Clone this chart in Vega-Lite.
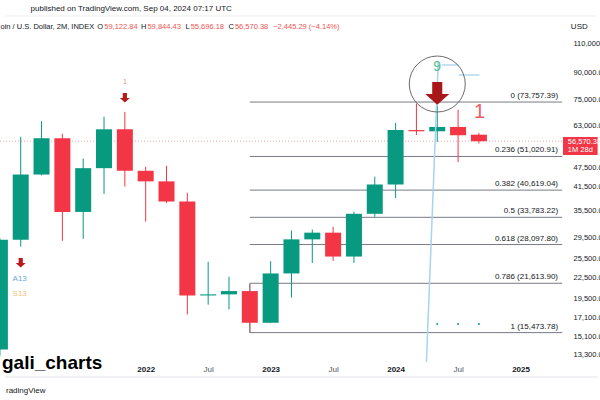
{
  "$schema": "https://vega.github.io/schema/vega-lite/v6.json",
  "width": 568,
  "height": 343,
  "autosize": {"type": "none"},
  "padding": {"left": 0, "top": 17, "right": 32, "bottom": 40},
  "background": "white",
  "config": {"view": {"stroke": null}, "font": "Liberation Sans", "text": {"font": "Liberation Sans"}},
  "datasets": {
    "candles": [
      {"date": "2020-11", "i": -1, "open": 13800, "high": 29300, "low": 13200, "close": 29000},
      {"date": "2021-01", "i": 0, "open": 29000, "high": 58300, "low": 27700, "close": 45140},
      {"date": "2021-03", "i": 1, "open": 45140, "high": 64800, "low": 44900, "close": 57720},
      {"date": "2021-05", "i": 2, "open": 57720, "high": 59500, "low": 28800, "close": 35040},
      {"date": "2021-07", "i": 3, "open": 35040, "high": 50300, "low": 29200, "close": 47130},
      {"date": "2021-09", "i": 4, "open": 47130, "high": 66800, "low": 39600, "close": 61320},
      {"date": "2021-11", "i": 5, "open": 61320, "high": 69000, "low": 41600, "close": 46300},
      {"date": "2022-01", "i": 6, "open": 46300, "high": 47600, "low": 32800, "close": 43100},
      {"date": "2022-03", "i": 7, "open": 43100, "high": 47900, "low": 37200, "close": 37600},
      {"date": "2022-05", "i": 8, "open": 37600, "high": 39900, "low": 17500, "close": 19900},
      {"date": "2022-07", "i": 9, "open": 19900, "high": 25000, "low": 18700, "close": 20050},
      {"date": "2022-09", "i": 10, "open": 20050, "high": 22600, "low": 18100, "close": 20500},
      {"date": "2022-11", "i": 11, "open": 20500, "high": 21500, "low": 15476, "close": 16540},
      {"date": "2023-01", "i": 12, "open": 16540, "high": 25100, "low": 16500, "close": 23100},
      {"date": "2023-03", "i": 13, "open": 23100, "high": 30900, "low": 19600, "close": 29100},
      {"date": "2023-05", "i": 14, "open": 29100, "high": 31100, "low": 24800, "close": 30450},
      {"date": "2023-07", "i": 15, "open": 30450, "high": 31700, "low": 25150, "close": 25900},
      {"date": "2023-09", "i": 16, "open": 25900, "high": 35100, "low": 24800, "close": 34600},
      {"date": "2023-11", "i": 17, "open": 34600, "high": 44500, "low": 33900, "close": 42200},
      {"date": "2024-01", "i": 18, "open": 42200, "high": 64000, "low": 38500, "close": 61000},
      {"date": "2024-03", "i": 19, "open": 61000, "high": 73000, "low": 59000, "close": 60500},
      {"date": "2024-05", "i": 20, "open": 60500, "high": 72000, "low": 56300, "close": 62300},
      {"date": "2024-07", "i": 21, "open": 62300, "high": 70000, "low": 49100, "close": 58900},
      {"date": "2024-09", "i": 22, "open": 59122.84, "high": 59844.43, "low": 55696.18, "close": 56570.38}
    ],
    "fib": [
      {"label": "0 (73,757.39)", "v": 73757.39},
      {"label": "0.236 (51,020.91)", "v": 51020.91},
      {"label": "0.382 (40,619.04)", "v": 40619.04},
      {"label": "0.5 (33,783.22)", "v": 33783.22},
      {"label": "0.618 (28,097.80)", "v": 28097.8},
      {"label": "0.786 (21,613.90)", "v": 21613.9},
      {"label": "1 (15,473.78)", "v": 15473.78}
    ],
    "hdrDark": [
      {"t": "oin / U.S. Dollar, 2M, INDEX", "i": 3.58},
      {"t": "O", "i": 4.009},
      {"t": "H", "i": 6.085},
      {"t": "L", "i": 8.16},
      {"t": "C", "i": 10.283}
    ],
    "hdrRed": [
      {"t": "59,122.84", "i": 4.009},
      {"t": "59,844.43", "i": 6.085},
      {"t": "55,696.18", "i": 8.16},
      {"t": "56,570.38", "i": 10.283},
      {"t": "−2,445.29 (−4.14%)", "i": 12.123}
    ]
  },
  "layer": [
    {
      "data": {"values": [{"i": -0.7547, "i2": 27.6, "v": 132100}]},
      "mark": {"type": "rule", "color": "#eeeeee", "strokeWidth": 1},
      "encoding": {
        "x": {"field": "i", "type": "quantitative", "scale": {"domain": [-0.7547, 26.0377], "nice": false, "zero": false}},
        "x2": {"field": "i2"},
        "y": {"field": "v", "type": "quantitative", "scale": {"type": "log", "domain": [12854, 131200], "nice": false}}
      }
    },
    {
      "data": {"values": [{"v": 56570.38}]},
      "mark": {"type": "rule", "color": "#f5a3a9", "strokeWidth": 1, "strokeDash": [1, 2]},
      "encoding": {
        "y": {"field": "v", "type": "quantitative", "scale": {"type": "log", "domain": [12854, 131200], "nice": false}}
      }
    },
    {
      "data": {"name": "fib"},
      "mark": {"type": "rule", "color": "#787b86", "strokeWidth": 1},
      "encoding": {
        "x": {"datum": 11, "type": "quantitative", "scale": {"domain": [-0.7547, 26.0377], "nice": false, "zero": false}},
        "x2": {"datum": 26.0},
        "y": {"field": "v", "type": "quantitative", "scale": {"type": "log", "domain": [12854, 131200], "nice": false}}
      }
    },
    {
      "data": {"name": "fib"},
      "mark": {"type": "text", "align": "right", "baseline": "alphabetic", "dy": -4, "fontSize": 8, "color": "#131722"},
      "encoding": {
        "x": {"datum": 25.8, "type": "quantitative", "scale": {"domain": [-0.7547, 26.0377], "nice": false, "zero": false}},
        "y": {"field": "v", "type": "quantitative", "scale": {"type": "log", "domain": [12854, 131200], "nice": false}},
        "text": {"field": "label"}
      }
    },
    {
      "data": {"name": "candles"},
      "mark": {"type": "rule", "strokeWidth": 1},
      "encoding": {
        "x": {"field": "i", "type": "quantitative", "scale": {"domain": [-0.7547, 26.0377], "nice": false, "zero": false}},
        "y": {"field": "low", "type": "quantitative", "scale": {"type": "log", "domain": [12854, 131200], "nice": false}},
        "y2": {"field": "high"},
        "color": {"condition": {"test": "datum.close >= datum.open", "value": "#089981"}, "value": "#f23645"}
      }
    },
    {
      "data": {"values": [{"i": 11, "lo": 15473.78, "hi": 21613.9}]},
      "mark": {"type": "rule", "strokeWidth": 1, "color": "#787b86"},
      "encoding": {
        "x": {"field": "i", "type": "quantitative", "scale": {"domain": [-0.7547, 26.0377], "nice": false, "zero": false}},
        "y": {"field": "lo", "type": "quantitative", "scale": {"type": "log", "domain": [12854, 131200], "nice": false}},
        "y2": {"field": "hi"}
      }
    },
    {
      "data": {"name": "candles"},
      "mark": {"type": "bar", "size": 16},
      "encoding": {
        "x": {
          "field": "i", "type": "quantitative",
          "scale": {"domain": [-0.7547, 26.0377], "nice": false, "zero": false},
          "axis": {
            "orient": "bottom", "values": [6, 9, 12, 15, 18, 21, 24],
            "labelExpr": "datum.value % 6 === 0 ? '' + (2021 + datum.value / 6) : 'Jul'",
            "labelFontWeight": {"condition": {"test": "datum.value % 6 === 0", "value": "bold"}, "value": "normal"},
            "labelColor": {"condition": {"test": "datum.value % 6 === 0", "value": "#131722"}, "value": "#50535e"},
            "labelFontSize": 8, "labelFont": "Liberation Sans", "labelPadding": 5,
            "ticks": false, "domain": false, "grid": false, "title": null,
            "labelFlush": false, "labelOverlap": false
          }
        },
        "y": {
          "field": "open", "type": "quantitative",
          "scale": {"type": "log", "domain": [12854, 131200], "nice": false},
          "axis": {
            "orient": "right",
            "values": [110000, 90000, 75000, 63000, 47500, 41500, 35500, 29500, 25500, 22500, 19500, 17100, 15100, 13300],
            "format": ",.2f", "labelAlign": "left", "labelBaseline": "middle", "labelPadding": 5,
            "labelFontSize": 7.5, "labelFont": "Liberation Sans", "labelColor": "#131722",
            "ticks": false, "domain": false, "grid": false, "title": null,
            "labelOverlap": false, "labelFlush": false, "labelBound": false
          }
        },
        "y2": {"field": "close"},
        "color": {"condition": {"test": "datum.close >= datum.open", "value": "#089981"}, "value": "#f23645"}
      }
    },
    {
      "data": {"values": [{"i": 20.047, "v": 96730}, {"i": 19.48, "v": 12680}]},
      "mark": {"type": "line", "color": "#a9d3f0", "strokeWidth": 1.5},
      "encoding": {
        "x": {"field": "i", "type": "quantitative", "scale": {"domain": [-0.7547, 26.0377], "nice": false, "zero": false}},
        "y": {"field": "v", "type": "quantitative", "scale": {"type": "log", "domain": [12854, 131200], "nice": false}}
      }
    },
    {
      "data": {"values": [{"i": 20.236, "i2": 21.038, "v": 94780}, {"i": 21.038, "i2": 22.028, "v": 88580}]},
      "mark": {"type": "rule", "color": "#b3d9f2", "strokeWidth": 1.5},
      "encoding": {
        "x": {"field": "i", "type": "quantitative", "scale": {"domain": [-0.7547, 26.0377], "nice": false, "zero": false}},
        "x2": {"field": "i2"},
        "y": {"field": "v", "type": "quantitative", "scale": {"type": "log", "domain": [12854, 131200], "nice": false}}
      }
    },
    {
      "data": {"values": [{"i": 20, "v": 83330}]},
      "mark": {"type": "point", "shape": "circle", "filled": false, "size": 3136, "stroke": "#6b6b6b", "strokeWidth": 1, "opacity": 1},
      "encoding": {
        "x": {"field": "i", "type": "quantitative", "scale": {"domain": [-0.7547, 26.0377], "nice": false, "zero": false}},
        "y": {"field": "v", "type": "quantitative", "scale": {"type": "log", "domain": [12854, 131200], "nice": false}}
      }
    },
    {
      "data": {"values": [{"i": 5, "v": 75810}, {"i": 0, "v": 24800}]},
      "mark": {"type": "point", "shape": "M-0.42,-1L0.42,-1L0.42,0L1,0L0,0.9L-1,0L-0.42,0Z", "filled": true, "size": 100, "color": "#b71c1c", "opacity": 1},
      "encoding": {
        "x": {"field": "i", "type": "quantitative", "scale": {"domain": [-0.7547, 26.0377], "nice": false, "zero": false}},
        "y": {"field": "v", "type": "quantitative", "scale": {"type": "log", "domain": [12854, 131200], "nice": false}}
      }
    },
    {
      "data": {"values": [{"i": 20, "v": 77890}]},
      "mark": {"type": "point", "shape": "M-0.42,-1L0.42,-1L0.42,0L1,0L0,0.9L-1,0L-0.42,0Z", "filled": true, "size": 576, "color": "#a81818", "opacity": 1},
      "encoding": {
        "x": {"field": "i", "type": "quantitative", "scale": {"domain": [-0.7547, 26.0377], "nice": false, "zero": false}},
        "y": {"field": "v", "type": "quantitative", "scale": {"type": "log", "domain": [12854, 131200], "nice": false}}
      }
    },
    {
      "data": {"values": [{"i": 20, "v": 16400}, {"i": 21, "v": 16400}, {"i": 22, "v": 16400}]},
      "mark": {"type": "point", "shape": "circle", "filled": true, "size": 4, "color": "#089981", "opacity": 1},
      "encoding": {
        "x": {"field": "i", "type": "quantitative", "scale": {"domain": [-0.7547, 26.0377], "nice": false, "zero": false}},
        "y": {"field": "v", "type": "quantitative", "scale": {"type": "log", "domain": [12854, 131200], "nice": false}}
      }
    },
    {
      "data": {"values": [{"t": "9", "i": 20, "v": 93500}]},
      "mark": {"type": "text", "fontSize": 14, "color": "#57c18f", "align": "center", "baseline": "middle"},
      "encoding": {
        "x": {"field": "i", "type": "quantitative", "scale": {"domain": [-0.7547, 26.0377], "nice": false, "zero": false}},
        "y": {"field": "v", "type": "quantitative", "scale": {"type": "log", "domain": [12854, 131200], "nice": false}},
        "text": {"field": "t"}
      }
    },
    {
      "data": {"values": [{"t": "1", "i": 22.03, "v": 68960}]},
      "mark": {"type": "text", "fontSize": 20, "color": "#f45b69", "align": "center", "baseline": "middle"},
      "encoding": {
        "x": {"field": "i", "type": "quantitative", "scale": {"domain": [-0.7547, 26.0377], "nice": false, "zero": false}},
        "y": {"field": "v", "type": "quantitative", "scale": {"type": "log", "domain": [12854, 131200], "nice": false}},
        "text": {"field": "t"}
      }
    },
    {
      "data": {"values": [{"t": "1", "i": 5, "v": 84470}]},
      "mark": {"type": "text", "fontSize": 7, "color": "#e53935", "opacity": 0.6, "align": "center", "baseline": "middle"},
      "encoding": {
        "x": {"field": "i", "type": "quantitative", "scale": {"domain": [-0.7547, 26.0377], "nice": false, "zero": false}},
        "y": {"field": "v", "type": "quantitative", "scale": {"type": "log", "domain": [12854, 131200], "nice": false}},
        "text": {"field": "t"}
      }
    },
    {
      "data": {"values": [{"t": "A13", "i": -0.05, "v": 22250}]},
      "mark": {"type": "text", "fontSize": 8, "color": "#6aa8dc", "align": "center", "baseline": "middle"},
      "encoding": {
        "x": {"field": "i", "type": "quantitative", "scale": {"domain": [-0.7547, 26.0377], "nice": false, "zero": false}},
        "y": {"field": "v", "type": "quantitative", "scale": {"type": "log", "domain": [12854, 131200], "nice": false}},
        "text": {"field": "t"}
      }
    },
    {
      "data": {"values": [{"t": "S13", "i": -0.05, "v": 20100}]},
      "mark": {"type": "text", "fontSize": 8, "color": "#f0c27a", "align": "center", "baseline": "middle"},
      "encoding": {
        "x": {"field": "i", "type": "quantitative", "scale": {"domain": [-0.7547, 26.0377], "nice": false, "zero": false}},
        "y": {"field": "v", "type": "quantitative", "scale": {"type": "log", "domain": [12854, 131200], "nice": false}},
        "text": {"field": "t"}
      }
    },
    {
      "data": {"values": [{"t": "published on TradingView.com, Sep 04, 2024 07:17 UTC", "i": 0.472, "v": 138480}]},
      "mark": {"type": "text", "fontSize": 8, "color": "#131722", "align": "left", "baseline": "middle"},
      "encoding": {
        "x": {"field": "i", "type": "quantitative", "scale": {"domain": [-0.7547, 26.0377], "nice": false, "zero": false}},
        "y": {"field": "v", "type": "quantitative", "scale": {"type": "log", "domain": [12854, 131200], "nice": false}},
        "text": {"field": "t"}
      }
    },
    {
      "data": {"name": "hdrDark"},
      "mark": {"type": "text", "fontSize": 7.5, "color": "#131722", "align": "right", "baseline": "middle", "dx": -1},
      "encoding": {
        "x": {"field": "i", "type": "quantitative", "scale": {"domain": [-0.7547, 26.0377], "nice": false, "zero": false}},
        "y": {"datum": 122600, "type": "quantitative", "scale": {"type": "log", "domain": [12854, 131200], "nice": false}},
        "text": {"field": "t"}
      }
    },
    {
      "data": {"name": "hdrRed"},
      "mark": {"type": "text", "fontSize": 7.5, "color": "#ef5350", "align": "left", "baseline": "middle"},
      "encoding": {
        "x": {"field": "i", "type": "quantitative", "scale": {"domain": [-0.7547, 26.0377], "nice": false, "zero": false}},
        "y": {"datum": 122600, "type": "quantitative", "scale": {"type": "log", "domain": [12854, 131200], "nice": false}},
        "text": {"field": "t"}
      }
    },
    {
      "data": {"values": [{"t": "USD", "i": 26.415, "v": 122600}]},
      "mark": {"type": "text", "fontSize": 8, "color": "#131722", "align": "left", "baseline": "middle"},
      "encoding": {
        "x": {"field": "i", "type": "quantitative", "scale": {"domain": [-0.7547, 26.0377], "nice": false, "zero": false}},
        "y": {"field": "v", "type": "quantitative", "scale": {"type": "log", "domain": [12854, 131200], "nice": false}},
        "text": {"field": "t"}
      }
    },
    {
      "data": {"values": [{"i": 26.0377, "i2": 27.7, "v": 58200, "v2": 51520}]},
      "mark": {"type": "rect", "color": "#f23645"},
      "encoding": {
        "x": {"field": "i", "type": "quantitative", "scale": {"domain": [-0.7547, 26.0377], "nice": false, "zero": false}},
        "x2": {"field": "i2"},
        "y": {"field": "v", "type": "quantitative", "scale": {"type": "log", "domain": [12854, 131200], "nice": false}},
        "y2": {"field": "v2"}
      }
    },
    {
      "data": {"values": [{"t": "56,570.38", "i": 26.27, "v": 56270}, {"t": "1M 28d", "i": 26.27, "v": 53290}]},
      "mark": {"type": "text", "fontSize": 7.5, "color": "#ffffff", "align": "left", "baseline": "middle"},
      "encoding": {
        "x": {"field": "i", "type": "quantitative", "scale": {"domain": [-0.7547, 26.0377], "nice": false, "zero": false}},
        "y": {"field": "v", "type": "quantitative", "scale": {"type": "log", "domain": [12854, 131200], "nice": false}},
        "text": {"field": "t"}
      }
    },
    {
      "data": {"values": [{"i": -0.7547, "i2": 27.7, "v": 11455}]},
      "mark": {"type": "rule", "color": "#e0e3eb", "strokeWidth": 1},
      "encoding": {
        "x": {"field": "i", "type": "quantitative", "scale": {"domain": [-0.7547, 26.0377], "nice": false, "zero": false}},
        "x2": {"field": "i2"},
        "y": {"field": "v", "type": "quantitative", "scale": {"type": "log", "domain": [12854, 131200], "nice": false}}
      }
    },
    {
      "data": {"values": [{"t": "gali_charts", "i": -0.9, "v": 12093}]},
      "mark": {"type": "text", "fontSize": 19, "fontWeight": "bold", "color": "#000000", "align": "left", "baseline": "alphabetic"},
      "encoding": {
        "x": {"field": "i", "type": "quantitative", "scale": {"domain": [-0.7547, 26.0377], "nice": false, "zero": false}},
        "y": {"field": "v", "type": "quantitative", "scale": {"type": "log", "domain": [12854, 131200], "nice": false}},
        "text": {"field": "t"}
      }
    },
    {
      "data": {"values": [{"t": "radingView", "i": -0.707, "v": 10280}]},
      "mark": {"type": "text", "fontSize": 8, "color": "#131722", "align": "left", "baseline": "alphabetic"},
      "encoding": {
        "x": {"field": "i", "type": "quantitative", "scale": {"domain": [-0.7547, 26.0377], "nice": false, "zero": false}},
        "y": {"field": "v", "type": "quantitative", "scale": {"type": "log", "domain": [12854, 131200], "nice": false}},
        "text": {"field": "t"}
      }
    }
  ]
}
